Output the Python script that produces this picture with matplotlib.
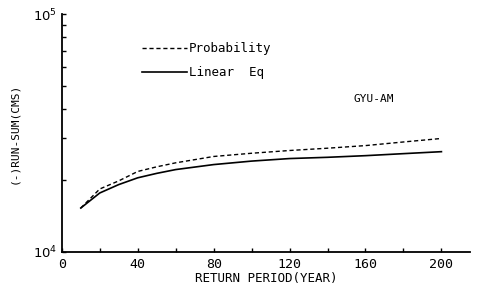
import matplotlib.pyplot as plt
from matplotlib.ticker import FixedLocator, LogLocator, NullFormatter

plt.rcParams['font.family'] = ['DejaVu Sans Mono']

# Return period (years) and run-sum (CMS)
period = [10, 20, 30, 40, 50, 60, 80, 100, 120, 140, 160, 180, 200]
probability = [15300, 18400, 19900, 21800, 22800, 23700, 25200, 26000, 26700, 27300, 28000, 29000, 30000]
linear_eq = [15300, 17700, 19200, 20500, 21400, 22200, 23300, 24100, 24700, 25000, 25400, 25900, 26400]

fig = plt.figure(figsize=(4.79, 2.93), dpi=100)
ax = fig.add_axes([0.129, 0.140, 0.852, 0.812])

ax.plot(period, probability, color='black', linestyle=(0, (3, 2)), linewidth=1.0, label='Probability')
ax.plot(period, linear_eq, color='black', linestyle='-', linewidth=1.2, label='Linear  Eq')

ax.set_yscale('log')
ax.set_xlim(0, 215)
ax.set_ylim(1e4, 1e5)

ax.spines['top'].set_visible(False)
ax.spines['right'].set_visible(False)
ax.spines['left'].set_linewidth(1.3)
ax.spines['bottom'].set_linewidth(1.3)

ax.xaxis.set_major_locator(FixedLocator([0, 40, 80, 120, 160, 200]))
ax.xaxis.set_minor_locator(FixedLocator([20, 60, 100, 140, 180]))
ax.yaxis.set_major_locator(FixedLocator([1e4, 1e5]))
ax.yaxis.set_minor_locator(LogLocator(base=10, subs=range(2, 10)))
ax.yaxis.set_minor_formatter(NullFormatter())
ax.set_yticklabels(['$10^4$', '$10^5$'])
ax.tick_params(which='both', direction='in', length=3, width=1, labelsize=9.5)
ax.tick_params(axis='x', pad=4)

ax.set_xlabel('RETURN PERIOD(YEAR)', fontsize=9, labelpad=1)
ax.set_ylabel('(-)RUN-SUM(CMS)', fontsize=8, labelpad=10)

ax.legend(loc='upper left', bbox_to_anchor=(0.17, 0.93), frameon=False,
          handlelength=3.6, handletextpad=0.1, fontsize=9, labelspacing=0.9)

ax.text(0.715, 0.63, 'GYU-AM', transform=ax.transAxes, fontsize=8)

fig.savefig('out.png', dpi=100, facecolor='white')
